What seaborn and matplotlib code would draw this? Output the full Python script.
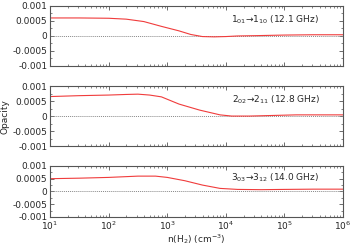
import numpy as np
import pandas as pd
import seaborn as sns
import matplotlib.pyplot as plt
from matplotlib.ticker import MultipleLocator, LogLocator, NullFormatter

# log10 of n(H2)
log_n = [1.0, 1.5, 2.0, 2.3, 2.6, 2.9, 3.2, 3.4, 3.6, 3.8, 4.0, 4.2, 4.5, 5.0, 5.5, 6.0]
opac_101 = [0.0006, 0.0006, 0.00059, 0.00056, 0.00048, 0.00032, 0.00017, 0.00005,
            -0.00002, -0.00003, -0.00002, 0.0, 0.00001, 0.00003, 0.00004, 0.00004]

log_n2 = [1.0, 1.5, 2.0, 2.3, 2.5, 2.7, 2.9, 3.2, 3.55, 3.9, 4.1, 4.4, 4.8, 5.2, 5.6, 6.0]
opac_202 = [0.00065, 0.00068, 0.0007, 0.00072, 0.00073, 0.0007, 0.00064, 0.0004,
            0.0002, 0.00004, 0.0, 0.0, 0.00002, 0.00004, 0.00004, 0.00004]

log_n3 = [1.0, 1.5, 2.0, 2.5, 2.8, 3.0, 3.3, 3.6, 3.9, 4.2, 4.6, 5.0, 5.5, 6.0]
opac_303 = [0.0005, 0.00052, 0.00055, 0.0006, 0.0006, 0.00055, 0.00042, 0.00025,
            0.00012, 0.00008, 0.00007, 0.00008, 0.00009, 0.00009]

labels = [r"1$_{01}$→1$_{10}$ (12.1 GHz)",
          r"2$_{02}$→2$_{11}$ (12.8 GHz)",
          r"3$_{03}$→3$_{12}$ (14.0 GHz)"]
yticks = [-0.001, -0.0005, 0, 0.0005, 0.001]
ytick_labels = ["-0.001", "-0.0005", "0", "0.0005", "0.001"]
xticks = [1e1, 1e2, 1e3, 1e4, 1e5, 1e6]
xtick_labels = [r"10$^{%d}$" % i for i in range(1, 7)]

sns.set_style("ticks")
plt.rcParams['font.family'] = ['DejaVu Sans']
plt.rcParams['font.size'] = 6.5

fig = plt.figure(figsize=(3.51, 2.48), dpi=100)
positions = [
    [0.1425, 0.734, 0.835, 0.242],
    [0.1425, 0.411, 0.835, 0.242],
    [0.1425, 0.125, 0.835, 0.206],
]
series = [(log_n, opac_101), (log_n2, opac_202), (log_n3, opac_303)]
frame = '#555555'

for i, (pos, (lx, ys), lab) in enumerate(zip(positions, series, labels)):
    ax = fig.add_axes(pos)
    df = pd.DataFrame({"n": 10 ** np.array(lx), "opacity": ys})
    ax.axhline(0, color='#888888', lw=0.7, ls=(0, (1, 1)))
    sns.lineplot(data=df, x="n", y="opacity", ax=ax, color='#f03c3c', lw=0.8)
    ax.set_xscale('log')
    ax.set_xlim(1e1, 1e6)
    ax.set_ylim(-0.001, 0.001)
    ax.set_yticks(yticks)
    ax.set_yticklabels(ytick_labels)
    ax.yaxis.set_minor_locator(MultipleLocator(0.00025))
    ax.set_xticks(xticks)
    ax.xaxis.set_minor_locator(LogLocator(base=10, subs=np.arange(2, 10)))
    ax.xaxis.set_minor_formatter(NullFormatter())
    if i == 2:
        ax.set_xticklabels(xtick_labels)
        ax.set_xlabel(r"n(H$_2$) (cm$^{-3}$)", labelpad=0)
    else:
        ax.set_xticklabels([])
        ax.set_xlabel("")
    ax.set_ylabel("Opacity" if i == 1 else "", labelpad=2)
    ax.tick_params(which='both', direction='in', top=True, right=True,
                   color=frame, labelsize=6.5, pad=2)
    ax.tick_params(which='major', length=3, width=0.6)
    ax.tick_params(which='minor', length=1.5, width=0.5)
    for s in ax.spines.values():
        s.set_color(frame)
        s.set_linewidth(0.8)
    ax.text(0.92, 0.77, lab, transform=ax.transAxes, ha='right', va='center',
            fontsize=6.5)

fig.savefig('out.png', dpi=100)
